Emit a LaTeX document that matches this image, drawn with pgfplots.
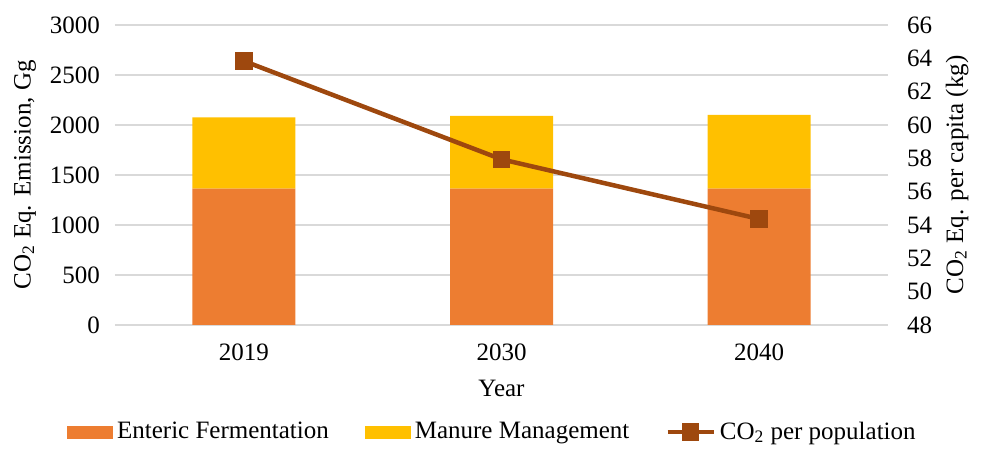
\documentclass[border=0pt]{standalone}
\usepackage{fontspec}
\setmainfont{Liberation Serif}
\usepackage{pgfplots}
\pgfplotsset{compat=1.18}
\definecolor{ent}{HTML}{ED7D31}
\definecolor{man}{HTML}{FFC000}
\definecolor{lin}{HTML}{9E480E}
\definecolor{grd}{HTML}{D9D9D9}
\pgfplotsset{
 barleg/.style={legend image code/.code={\fill[##1] (0pt,-3.25pt) rectangle (23pt,3.25pt);}},
 lineleg/.style={legend image code/.code={\draw[mark repeat=2,mark phase=2,##1] plot coordinates {(0pt,0pt)(11.5pt,0pt)(23pt,0pt)};}},
}
\begin{document}
\begin{tikzpicture}[font=\fontsize{12.5}{15}\selectfont]
\begin{axis}[name=ax,
 scale only axis, width=386.5pt, height=150pt,
 xmin=-0.5, xmax=2.5, xtick={0,1,2}, xticklabels={2019,2030,2040},
 ymin=0, ymax=3000, ytick={0,500,...,3000},
 ybar stacked, bar width=51.5pt,
 axis x line*=bottom, axis y line*=left,
 y axis line style={draw=none},
 x axis line style={grd, line width=0.75pt},
 major tick length=0pt,
 ymajorgrids, grid style={grd, line width=0.75pt},
 /pgf/number format/assume math mode=true,
 /pgf/number format/1000 sep={},
 yticklabel style={xshift=-4pt},
 xticklabel style={yshift=-6pt},
 xlabel={Year},
 xlabel style={at={(axis description cs:0.5,-0.21)}, anchor=center},
 ylabel={CO\textsubscript{2} Eq. Emission, Gg},
 ylabel style={at={(axis description cs:-0.1164,0.5)}, anchor=center},
]
\addplot[fill=ent, draw=none] coordinates {(0,1363) (1,1363) (2,1363)};
\addplot[fill=man, draw=none] coordinates {(0,714) (1,727) (2,737)};
\end{axis}
\begin{axis}[
 scale only axis, width=386.5pt, height=150pt,
 xmin=-0.5, xmax=2.5, hide x axis,
 axis y line*=right, y axis line style={draw=none},
 ymin=48, ymax=66, ytick={48,50,...,66},
 major tick length=0pt,
 /pgf/number format/assume math mode=true,
 yticklabel style={xshift=6pt},
 ylabel={CO\textsubscript{2} Eq. per capita (kg)},
 ylabel style={at={(axis description cs:1.0893,0.5)}, anchor=center},
 legend columns=3,
 legend style={draw=none, at={(0.4895,-0.357)}, anchor=center,
   font=\fontsize{12.5}{15}\selectfont,
   /tikz/every even column/.append style={column sep=16pt}},
 legend cell align=left,
]
\addlegendimage{fill=ent, draw=none, barleg}
\addlegendentry{Enteric Fermentation}
\addlegendimage{fill=man, draw=none, barleg}
\addlegendentry{Manure Management}
\addplot[lin, line width=2.25pt, mark=square*, mark size=3.25pt, mark options={solid}, lineleg]
 coordinates {(0,63.84) (1,57.94) (2,54.36)};
\addlegendentry{CO\textsubscript{2} per population}
\end{axis}
\path ([xshift=-57.5pt,yshift=-61.5pt]ax.south west) rectangle ([xshift=47pt,yshift=12.5pt]ax.north east);
\end{tikzpicture}
\end{document}
